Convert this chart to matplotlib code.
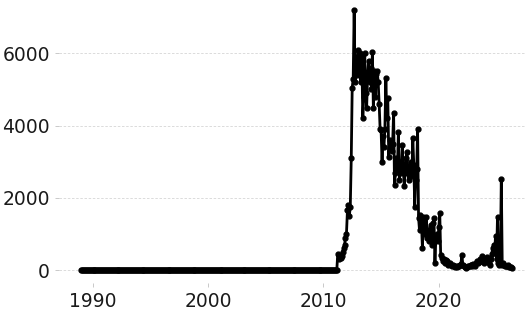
import matplotlib
matplotlib.use("Agg")
import matplotlib.pyplot as plt
import matplotlib.dates as mdates
import pandas as pd
import numpy as np

# Monthly series: zeros from 1989-01 through 2010-12, then observed values
start_zero = "1989-01-01"
zero_months = 264
active_start = "2011-01-01"
active_values = [
    0, 0, 0, 450, 300, 350, 320, 400, 500, 600, 700, 900,
    1000, 1650, 1800, 1500, 1750, 3100, 5050, 5300, 7200, 5200, 5900, 5400,
    6100, 5500, 6000, 5200, 5900, 4200, 4800, 6000, 4900, 4500, 5400, 5800,
    5200, 5600, 5000, 6050, 4500, 5500, 4800, 5440, 5500, 5200, 4600, 3900,
    3870, 2980, 3700, 3400, 3900, 5330, 4200, 4750, 3120, 3600, 3400, 3300,
    3500, 4360, 2350, 2700, 3100, 2800, 3810, 2490, 3000, 2700, 3450, 2900,
    2320, 2700, 3100, 3260, 2700, 2500, 2800, 3000, 2600, 3650, 2900, 1740,
    2500, 2800, 3900, 1440, 1100, 1520, 1300, 610, 1460, 1000, 1200, 1460,
    890, 1100, 800, 1000, 1240, 700, 1300, 1440, 190, 900, 1000, 800,
    1200, 1570, 410, 330, 250, 300, 200, 280, 250, 200, 150, 180,
    190, 150, 120, 140, 100, 90, 110, 80, 100, 120, 150, 180,
    410, 150, 100, 80, 55, 90, 100, 120, 110, 130, 150, 120,
    180, 150, 120, 200, 250, 190, 220, 300, 250, 390, 300, 200,
    250, 280, 360, 250, 200, 150, 300, 450, 600, 700, 500, 940,
    300, 1470, 200, 150, 200, 2510, 140, 200, 150, 120, 110, 100,
    130, 90, 80, 70, 60,
]
y_ticks = [0, 2000, 4000, 6000]
x_tick_years = [1990, 2000, 2010, 2020]

dates = list(pd.date_range(start_zero, periods=zero_months, freq="MS")) + \
    list(pd.date_range(active_start, periods=len(active_values), freq="MS"))
values = [0] * zero_months + active_values

fig = plt.figure(figsize=(5.26, 3.12), dpi=100)
ax = fig.add_axes([58.9 / 526, 29 / 312, (534 - 58.9) / 526, (312 - 29 + 3) / 312])
ax.plot(dates, values, color="black", linewidth=2.0, marker="o", markersize=3.5)

ax.set_yticks(y_ticks)
ax.set_xticks([pd.Timestamp(f"{y}-01-01") for y in x_tick_years])
ax.xaxis.set_major_formatter(mdates.DateFormatter("%Y"))
ax.tick_params(axis="both", labelsize=13.5, labelcolor="#1a1a1a", length=3, width=0.6, color="#c0c0c0")
ax.grid(axis="y", linestyle=(0, (3, 2)), color="#d6d6d6", linewidth=0.6)
ax.grid(axis="x", visible=False)
for s in ax.spines.values():
    s.set_visible(False)
ax.set_ylim(-360, 7560)
ax.set_xlim(pd.Timestamp("1987-02-01"), pd.Timestamp("2028-04-01"))

fig.savefig("out.png", dpi=100)
